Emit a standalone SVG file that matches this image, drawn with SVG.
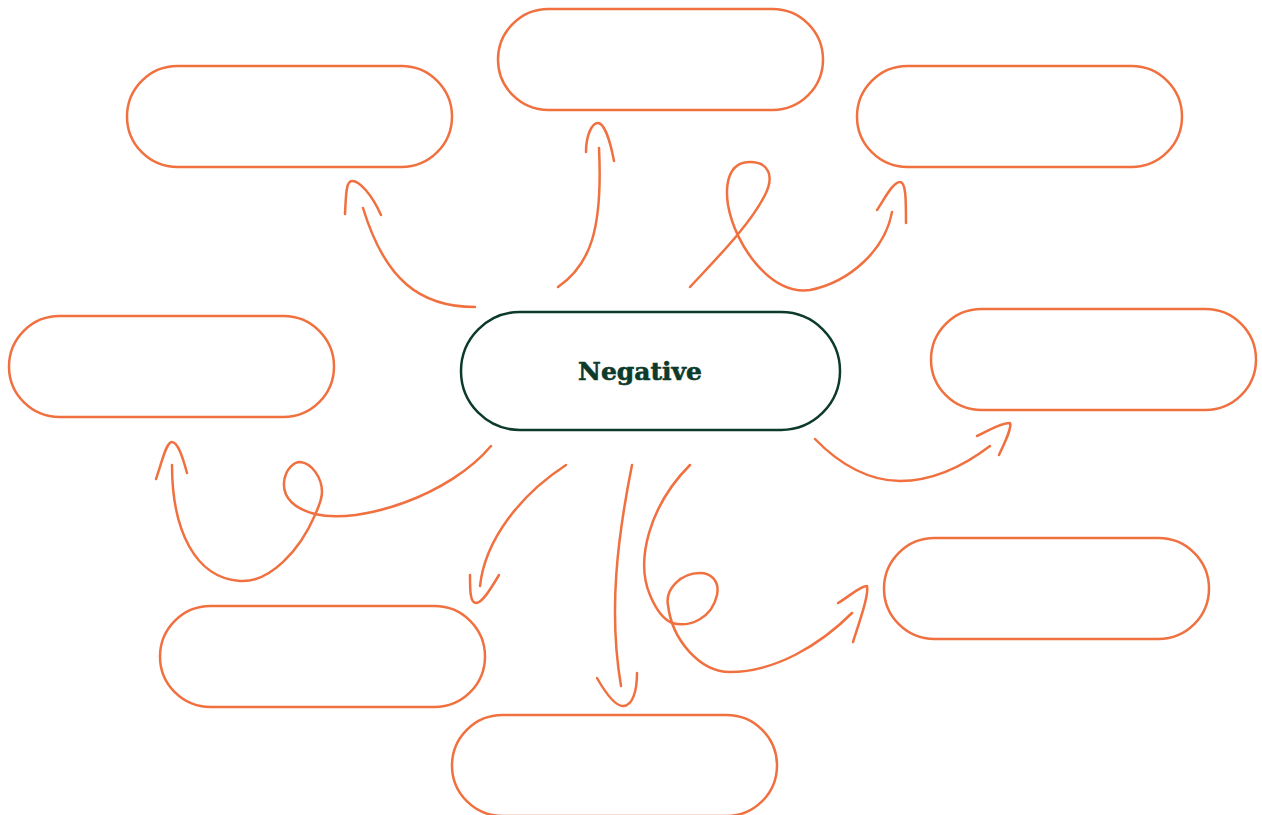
<svg xmlns="http://www.w3.org/2000/svg" width="1262" height="815" viewBox="0 0 1262 815">
<style>
.box{fill:#fff;stroke:#f0703f;stroke-width:2.5}
.center{fill:#fff;stroke:#0c3a2b;stroke-width:2.5}
.c{fill:none;stroke:#f0703f;stroke-width:2.5;stroke-linecap:round;stroke-linejoin:round}
.lbl{font-family:"DejaVu Serif",serif;font-weight:bold;font-size:25px;fill:#0c3a2b;stroke:#0c3a2b;stroke-width:0.6}
</style>
<rect width="1262" height="815" fill="#fff"/>
<g id="node-top-left"><rect class="box" x="127" y="66" width="325" height="101" rx="50.5"/></g>
<g id="node-top-center"><rect class="box" x="498" y="9" width="325" height="101" rx="50.5"/></g>
<g id="node-top-right"><rect class="box" x="857" y="66" width="325" height="101" rx="50.5"/></g>
<g id="node-left"><rect class="box" x="9" y="316" width="325" height="101" rx="50.5"/></g>
<g id="node-right"><rect class="box" x="931" y="309" width="325" height="101" rx="50.5"/></g>
<g id="node-bottom-left"><rect class="box" x="160" y="606" width="325" height="101" rx="50.5"/></g>
<g id="node-bottom-center"><rect class="box" x="452" y="715" width="325" height="101" rx="50.5"/></g>
<g id="node-bottom-right"><rect class="box" x="884" y="538" width="325" height="101" rx="50.5"/></g>
<g id="node-center"><rect class="center" x="461" y="312" width="379" height="118" rx="59"/>
<text class="lbl" x="640" y="380" text-anchor="middle">Negative</text></g>
<g id="connectors">
<path class="c" d="M475,307 C420,307 385,280 363,208"/>
<path class="c" d="M345,214 C346,195 346,181 352,181 C360,181 372,195 381,215"/>
<path class="c" d="M558,287 C590,265 603,230 599,148"/>
<path class="c" d="M586,152 C586,135 592,123 598,123 C604,123 610,140 614,161"/>
<path class="c" d="M690,287 C715,260 750,225 765,195 C775,175 768,162 750,162 C728,162 725,185 728,205 C735,245 770,295 810,290 C850,282 885,250 892,212"/>
<path class="c" d="M877,210 C885,198 893,182 900,182 C906,182 906,200 906,223"/>
<path class="c" d="M491,446 C450,495 360,525 315,514 C295,509 283,498 284,483 C285,468 295,462 300,462 C312,463 322,478 322,492 C322,500 318,508 315,515 C300,550 270,583 240,581 C195,578 172,530 172,465"/>
<path class="c" d="M156,479 C162,462 166,442 172,442 C178,442 183,458 187,473"/>
<path class="c" d="M566,465 C520,495 485,540 480,586"/>
<path class="c" d="M470,575 C470,590 470,603 476,603 C482,603 490,590 499,575"/>
<path class="c" d="M632,465 C618,535 608,610 621,686"/>
<path class="c" d="M597,678 C605,692 615,706 623,706 C633,706 637,690 637,673"/>
<path class="c" d="M690,465 C650,505 635,560 650,595 C657,612 665,620 672,623 C690,628 712,618 717,595 C720,580 710,573 700,573 C680,573 665,590 668,605 C672,640 700,672 730,672 C775,672 820,645 852,613"/>
<path class="c" d="M838,603 C850,596 860,586 867,586 C869,595 860,620 853,642"/>
<path class="c" d="M815,439 C840,465 870,481 900,481 C935,481 965,465 990,446"/>
<path class="c" d="M977,436 C990,430 1000,423 1010,423 C1012,428 1005,442 999,455"/>
</g>
</svg>
